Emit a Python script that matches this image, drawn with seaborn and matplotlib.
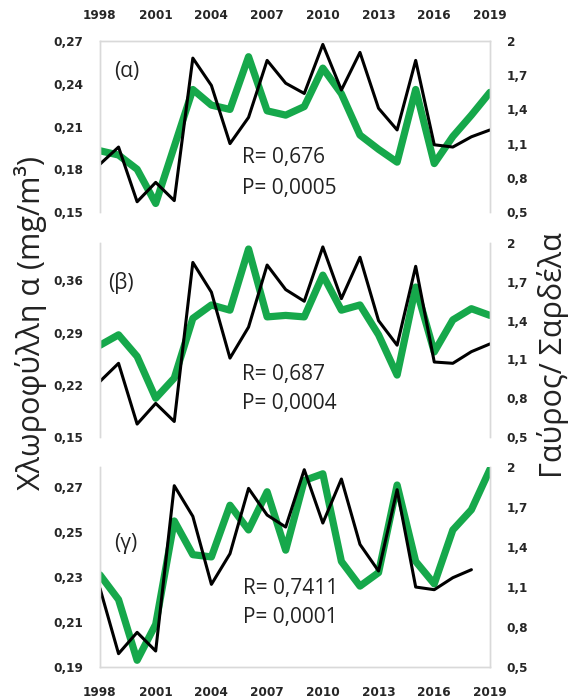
import matplotlib
matplotlib.use("Agg")
import matplotlib.pyplot as plt
import seaborn as sns
import numpy as np
import pandas as pd

# ------------------------ data ------------------------
years = list(range(1998, 2020))

# chlorophyll a (left axis, green)
chl_a = [0.193, 0.190, 0.180, 0.156, 0.196, 0.236, 0.225, 0.222, 0.259, 0.221, 0.218,
         0.224, 0.251, 0.233, 0.204, 0.194, 0.185, 0.236, 0.184, 0.203, 0.218, 0.234]
chl_b = [0.273, 0.287, 0.258, 0.202, 0.229, 0.309, 0.327, 0.320, 0.402, 0.311, 0.313,
         0.311, 0.367, 0.320, 0.327, 0.287, 0.233, 0.351, 0.264, 0.307, 0.322, 0.313]
chl_c = [0.231, 0.220, 0.193, 0.209, 0.255, 0.240, 0.239, 0.262, 0.251, 0.268, 0.242,
         0.273, 0.276, 0.237, 0.226, 0.232, 0.271, 0.237, 0.227, 0.251, 0.260, 0.278]

# anchovy / sardine ratio (right axis, black)
fish_a = [0.92, 1.07, 0.59, 0.76, 0.60, 1.85, 1.61, 1.10, 1.33, 1.83, 1.63,
          1.54, 1.97, 1.57, 1.90, 1.41, 1.22, 1.83, 1.09, 1.07, 1.16, 1.22]
fish_b = [0.93, 1.07, 0.60, 0.76, 0.62, 1.85, 1.62, 1.11, 1.35, 1.83, 1.64,
          1.55, 1.97, 1.57, 1.89, 1.40, 1.21, 1.82, 1.08, 1.07, 1.16, 1.22]
fish_c = [1.09, 0.60, 0.76, 0.62, 1.86, 1.63, 1.12, 1.35, 1.84, 1.64, 1.55,
          1.98, 1.58, 1.91, 1.42, 1.22, 1.83, 1.10, 1.08, 1.17, 1.23, np.nan]

panel_labels = ["(α)", "(β)", "(γ)"]
r_texts = ["R= 0,676", "R= 0,687", "R= 0,7411"]
p_texts = ["P= 0,0005", "P= 0,0004", "P= 0,0001"]

left_ticks = [[0.15, 0.18, 0.21, 0.24, 0.27],
              [0.15, 0.22, 0.29, 0.36],
              [0.19, 0.21, 0.23, 0.25, 0.27]]
left_limits = [(0.15, 0.27), (0.15, 0.41), (0.19, 0.279)]
right_ticks = [0.5, 0.8, 1.1, 1.4, 1.7, 2.0]
x_ticks = [1998, 2001, 2004, 2007, 2010, 2013, 2016, 2019]

chl = [chl_a, chl_b, chl_c]
fish = [fish_a, fish_b, fish_c]

# ------------------------ plotting ------------------------
sns.set_style("white")
plt.rcParams['font.family'] = ['Open Sans', 'DejaVu Sans']

green = "#16A84B"
grey = "#D9D9D9"

def comma(v):
    s = f"{v:g}"
    return s.replace(".", ",")

fig = plt.figure(figsize=(5.7, 7), dpi=100)

# axes rectangles in figure fraction (left, bottom, width, height)
rects = [(0.1754, 0.6971, 0.6842, 0.2443),
         (0.1754, 0.3757, 0.6842, 0.2771),
         (0.1754, 0.0471, 0.6842, 0.2857)]

# positions of panel texts (axes fraction)
lab_pos = [(0.035, 0.82), (0.022, 0.795), (0.035, 0.62)]
r_pos = [(0.364, 0.316), (0.364, 0.32), (0.366, 0.395)]
p_pos = [(0.364, 0.14), (0.364, 0.175), (0.366, 0.25)]

tick_font = dict(family='DejaVu Sans', weight='bold', size=8.7)

for i in range(3):
    ax = fig.add_axes(rects[i])
    df = pd.DataFrame({"year": years, "chl": chl[i], "fish": fish[i]})
    sns.lineplot(data=df, x="year", y="chl", ax=ax, color=green, linewidth=5.2)
    ax.set_xlim(1998, 2019)
    ax.set_ylim(*left_limits[i])
    ax.set_yticks(left_ticks[i])
    ax.set_yticklabels([comma(v) for v in left_ticks[i]], fontdict=tick_font)
    ax.set_xlabel("")
    ax.set_ylabel("")
    ax.set_xticks(x_ticks)
    ax.tick_params(axis='both', length=0, pad=12)

    ax2 = ax.twinx()
    sns.lineplot(data=df, x="year", y="fish", ax=ax2, color="black", linewidth=2.2)
    ax2.set_xlim(1998, 2019)
    ax2.set_ylim(0.5, 2.0)
    ax2.set_yticks(right_ticks)
    ax2.set_yticklabels([comma(v) for v in right_ticks], fontdict=tick_font)
    ax2.set_ylabel("")
    ax2.tick_params(axis='both', length=0, pad=12)

    for a in (ax, ax2):
        for side in ("left", "right", "top", "bottom"):
            a.spines[side].set_color(grey)
            a.spines[side].set_linewidth(1.0)
        a.spines["bottom"].set_visible(i == 2)
        a.spines["top"].set_visible(i == 0)

    if i == 0:
        ax.xaxis.tick_top()
        ax.set_xticklabels([str(y) for y in x_ticks], fontdict=tick_font)
        ax.tick_params(axis='x', pad=14)
    elif i == 2:
        ax.set_xticklabels([str(y) for y in x_ticks], fontdict=tick_font)
        ax.tick_params(axis='x', pad=14)
    else:
        ax.set_xticklabels([])

    ax2.text(lab_pos[i][0], lab_pos[i][1], panel_labels[i], transform=ax.transAxes,
             fontsize=15, va='center', ha='left', color='#222222')
    ax2.text(r_pos[i][0], r_pos[i][1], r_texts[i], transform=ax.transAxes,
             fontsize=15, va='center', ha='left', color='#222222')
    ax2.text(p_pos[i][0], p_pos[i][1], p_texts[i], transform=ax.transAxes,
             fontsize=15, va='center', ha='left', color='#222222')

fig.text(0.053, 1 - 323 / 700, "Χλωροφύλλη α (mg/m³)", rotation=90,
         ha='center', va='center', fontsize=22, color='#222222')
fig.text(0.970, 1 - 355 / 700, "Γαύρος/ Σαρδέλα", rotation=90,
         ha='center', va='center', fontsize=22, color='#222222')

fig.savefig("out.png", dpi=100)
